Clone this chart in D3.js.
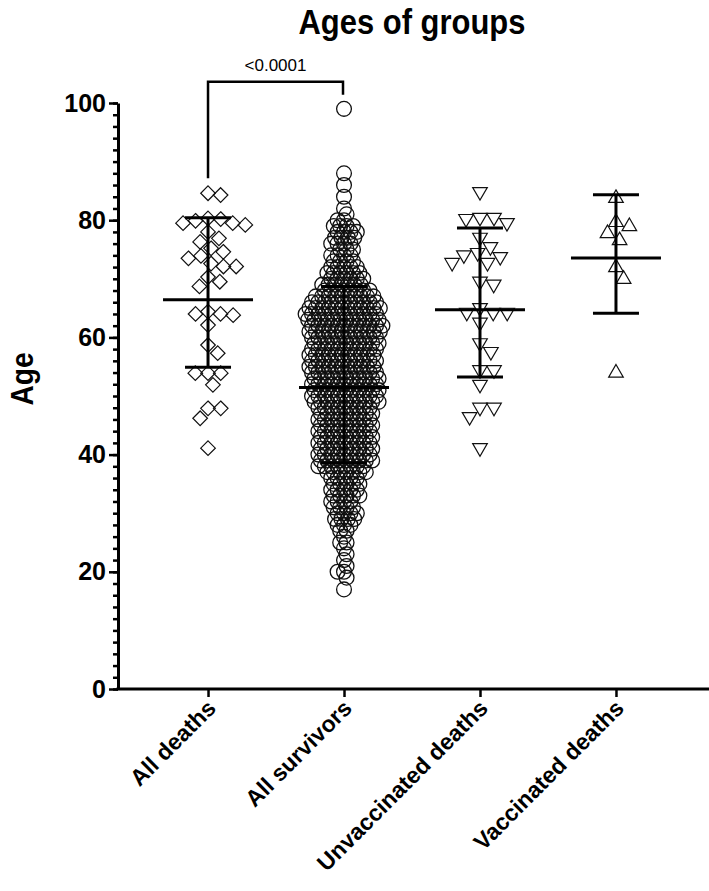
<!DOCTYPE html>
<html>
<head>
<meta charset="utf-8">
<script src="https://cdn.jsdelivr.net/npm/d3@7"></script>
<style>
  body { margin: 0; background: #fff; }
  text { font-family: "Liberation Sans", Arial, sans-serif; }
</style>
</head>
<body>
<div id="chart"></div>
<script>
// groups on the x axis
var groups = ["All deaths", "All survivors", "Unvaccinated deaths", "Vaccinated deaths"];

// ages, one array per group
var allDeaths = [84.3, 84.6, 79.5, 80.2, 79.9, 80.3, 79.5, 79.2, 78.0, 76.9, 76.3, 74.6, 73.9,
  75.2, 73.5, 72.6, 72.1, 72.1, 70.3, 69.5, 68.7, 63.8, 64.0, 64.0, 64.4, 62.1, 58.7, 57.3,
  53.9, 53.9, 53.9, 51.9, 47.9, 47.9, 46.2, 41.1];

var allSurvivors = [
  99, 88, 86, 84, 82, 81, 80, 80,
  79, 79, 79, 79, 78, 78, 78, 78, 77, 77, 77, 77,
  76, 76, 76, 76, 75, 75, 75, 74, 74, 74, 74, 73, 73, 73, 73,
  72, 72, 72, 72, 72,
  71, 71, 71, 71, 71, 71,
  70, 70, 70, 70, 70, 70,
  69, 69, 69, 69, 69, 69, 69,
  68, 68, 68, 68, 68, 68, 68, 68,
  67, 67, 67, 67, 67, 67, 67, 67, 67, 67,
  66, 66, 66, 66, 66, 66, 66, 66, 66, 66, 66,
  65, 65, 65, 65, 65, 65, 65, 65, 65, 65, 65, 65,
  64, 64, 64, 64, 64, 64, 64, 64, 64, 64, 64, 64,
  63, 63, 63, 63, 63, 63, 63, 63, 63, 63, 63, 63,
  62, 62, 62, 62, 62, 62, 62, 62, 62, 62, 62, 62,
  61, 61, 61, 61, 61, 61, 61, 61, 61, 61, 61, 61,
  60, 60, 60, 60, 60, 60, 60, 60, 60, 60, 60,
  59, 59, 59, 59, 59, 59, 59, 59, 59, 59, 59,
  58, 58, 58, 58, 58, 58, 58, 58, 58, 58, 58,
  57, 57, 57, 57, 57, 57, 57, 57, 57, 57, 57,
  56, 56, 56, 56, 56, 56, 56, 56, 56, 56, 56,
  55, 55, 55, 55, 55, 55, 55, 55, 55, 55, 55,
  54, 54, 54, 54, 54, 54, 54, 54, 54, 54, 54,
  53, 53, 53, 53, 53, 53, 53, 53, 53, 53, 53,
  52, 52, 52, 52, 52, 52, 52, 52, 52, 52, 52,
  51, 51, 51, 51, 51, 51, 51, 51, 51, 51, 51,
  50, 50, 50, 50, 50, 50, 50, 50, 50, 50, 50,
  49, 49, 49, 49, 49, 49, 49, 49, 49, 49, 49,
  48, 48, 48, 48, 48, 48, 48, 48, 48,
  47, 47, 47, 47, 47, 47, 47, 47, 47,
  46, 46, 46, 46, 46, 46, 46, 46, 46,
  45, 45, 45, 45, 45, 45, 45, 45, 45,
  44, 44, 44, 44, 44, 44, 44, 44, 44,
  43, 43, 43, 43, 43, 43, 43, 43, 43,
  42, 42, 42, 42, 42, 42, 42, 42, 42,
  41, 41, 41, 41, 41, 41, 41, 41, 41,
  40, 40, 40, 40, 40, 40, 40, 40, 40,
  39, 39, 39, 39, 39, 39, 39, 39, 39,
  38, 38, 38, 38, 38, 38, 38, 38,
  37, 37, 37, 37, 37, 37, 37,
  36, 36, 36, 36, 36,
  35, 35, 35, 35, 35,
  34, 34, 34, 34, 34,
  33, 33, 33, 33, 33,
  32, 32, 32, 32, 31, 31, 31, 31,
  30, 30, 30, 30, 29, 29, 29, 29,
  28, 28, 28, 27, 27, 26, 25, 25, 24, 23, 22, 21, 20, 20, 19, 17
];

var unvaccinatedDeaths = [84.8, 80.4, 80.4, 80.2, 79.5, 77.0, 75.4, 74.4, 73.7, 74.0, 72.7, 72.7,
  69.5, 69.0, 65.0, 64.2, 64.2, 64.2, 62.5, 59.0, 57.5, 54.4, 54.4, 51.9, 48.0, 48.0, 46.4, 41.1];

var vaccinatedDeaths = [83.8, 79.7, 79.0, 77.8, 76.6, 72.0, 70.0, 54.0];

var yTicks = [0, 20, 40, 60, 80, 100];
var pLabel = "<0.0001";

var series = [allDeaths, allSurvivors, unvaccinatedDeaths, vaccinatedDeaths];

var width = 709, height = 891;
var svg = d3.select("#chart").append("svg")
  .attr("width", width).attr("height", height);

var x = d3.scalePoint().domain(groups).range([118, 706]).padding(0.662);
var y = d3.scaleLinear().domain([0, 100]).range([689, 103]);

// marker shapes
var shapes = [
  function (r) { return "M0," + (-r) + "L" + r + ",0L0," + r + "L" + (-r) + ",0Z"; },
  null,
  function (r) { return "M" + (-r) + "," + (-r * 0.62) + "L" + r + "," + (-r * 0.62) + "L0," + (r * 1.1) + "Z"; },
  function (r) { return "M0," + (-r * 1.1) + "L" + r + "," + (r * 0.62) + "L" + (-r) + "," + (r * 0.62) + "Z"; }
];
var spacing = [12.7, 6.4, 14, 14];

// simple beeswarm, top value first
function swarm(vals, d) {
  var pts = vals.map(function (v) { return { v: v, py: y(v), dx: 0 }; })
    .sort(function (a, b) { return a.py - b.py; });
  var placed = [];
  pts.forEach(function (p) {
    var near = placed.filter(function (q) { return Math.abs(q.py - p.py) < d; });
    var cands = [0];
    near.forEach(function (q) {
      var h = Math.sqrt(d * d - (q.py - p.py) * (q.py - p.py));
      cands.push(q.dx + h, q.dx - h);
    });
    var ok = cands.filter(function (c) {
      return near.every(function (q) {
        return (q.dx - c) * (q.dx - c) + (q.py - p.py) * (q.py - p.py) >= d * d - 0.01;
      });
    });
    var lean = d3.sum(near, function (q) { return q.dx; });
    ok.sort(function (a, b) {
      var da = Math.round(Math.abs(a) * 100), db = Math.round(Math.abs(b) * 100);
      if (da !== db) return da - db;
      return lean > 0 ? a - b : b - a;
    });
    p.dx = ok[0];
    placed.push(p);
  });
  return pts;
}

var plot = svg.append("g");

series.forEach(function (vals, i) {
  var cx = x(groups[i]);
  var pts = swarm(vals, spacing[i]);
  var g = plot.append("g");
  if (i === 1) {
    g.selectAll("circle").data(pts).enter().append("circle")
      .attr("cx", function (d) { return cx + d.dx; })
      .attr("cy", function (d) { return d.py; })
      .attr("r", 7.4)
      .attr("fill", "none")
      .attr("stroke", "#111")
      .attr("stroke-width", 1.3);
  } else {
    g.selectAll("path").data(pts).enter().append("path")
      .attr("d", shapes[i](7.3))
      .attr("transform", function (d) { return "translate(" + (cx + d.dx) + "," + d.py + ")"; })
      .attr("fill", "none")
      .attr("stroke", "#111")
      .attr("stroke-width", 1.2);
  }
});

// geometric mean with geometric SD factor
var err = svg.append("g").attr("stroke", "#000").attr("stroke-width", 3);
series.forEach(function (vals, i) {
  var cx = x(groups[i]);
  var gm = Math.exp(d3.mean(vals, Math.log));
  var f = Math.exp(d3.deviation(vals, Math.log));
  err.append("line").attr("x1", cx).attr("x2", cx).attr("y1", y(gm / f)).attr("y2", y(gm * f));
  err.append("line").attr("x1", cx - 45).attr("x2", cx + 45).attr("y1", y(gm)).attr("y2", y(gm));
  err.append("line").attr("x1", cx - 23).attr("x2", cx + 23).attr("y1", y(gm * f)).attr("y2", y(gm * f));
  err.append("line").attr("x1", cx - 23).attr("x2", cx + 23).attr("y1", y(gm / f)).attr("y2", y(gm / f));
});

// y axis, minor then major
svg.append("g").attr("transform", "translate(118,0)")
  .call(d3.axisLeft(y).tickValues(d3.range(0, 101, 2)).tickSize(5).tickSizeOuter(0).tickFormat(""))
  .call(function (g) { g.select(".domain").remove(); g.selectAll("line").attr("stroke-width", 2.5); });

var yAxis = svg.append("g").attr("transform", "translate(118,0)")
  .call(d3.axisLeft(y).tickValues(yTicks).tickSize(9).tickSizeOuter(0).tickPadding(3));
yAxis.select(".domain").attr("stroke-width", 3);
yAxis.selectAll("line").attr("stroke-width", 2.5);
yAxis.selectAll("text").attr("font-size", 25).attr("font-weight", "bold").attr("fill", "#000");

var xAxis = svg.append("g").attr("transform", "translate(0,689)")
  .call(d3.axisBottom(x).tickSize(8).tickSizeOuter(0));
xAxis.select(".domain").attr("d", "M116.5,0H709").attr("stroke-width", 3);
xAxis.selectAll("line").attr("stroke-width", 2.5);
xAxis.selectAll("text")
  .attr("font-size", 23).attr("font-weight", "bold").attr("fill", "#000")
  .attr("text-anchor", "end")
  .attr("x", 0).attr("y", 0).attr("dy", "0.35em")
  .attr("transform", "translate(3,15) rotate(-45)");

// significance bracket
var legL = y(d3.max(allDeaths)) - 15;
var legR = y(d3.max(allSurvivors)) - 14;
var x0 = x(groups[0]), x1 = x(groups[1]) - 1;
svg.append("path")
  .attr("d", "M" + x0 + "," + legL + "V81.7H" + x1 + "V" + legR)
  .attr("fill", "none").attr("stroke", "#000").attr("stroke-width", 2.5);
svg.append("text")
  .attr("x", (x0 + x1) / 2).attr("y", 71)
  .attr("text-anchor", "middle").attr("font-size", 17)
  .text(pLabel);

// title and axis label
svg.append("text")
  .attr("transform", "translate(412,34) scale(0.86,1)")
  .attr("text-anchor", "middle").attr("font-size", 36).attr("font-weight", "bold")
  .text("Ages of groups");

svg.append("text")
  .attr("transform", "translate(33,379) rotate(-90) scale(0.88,1)")
  .attr("text-anchor", "middle").attr("font-size", 32).attr("font-weight", "bold")
  .text("Age");
</script>
</body>
</html>
